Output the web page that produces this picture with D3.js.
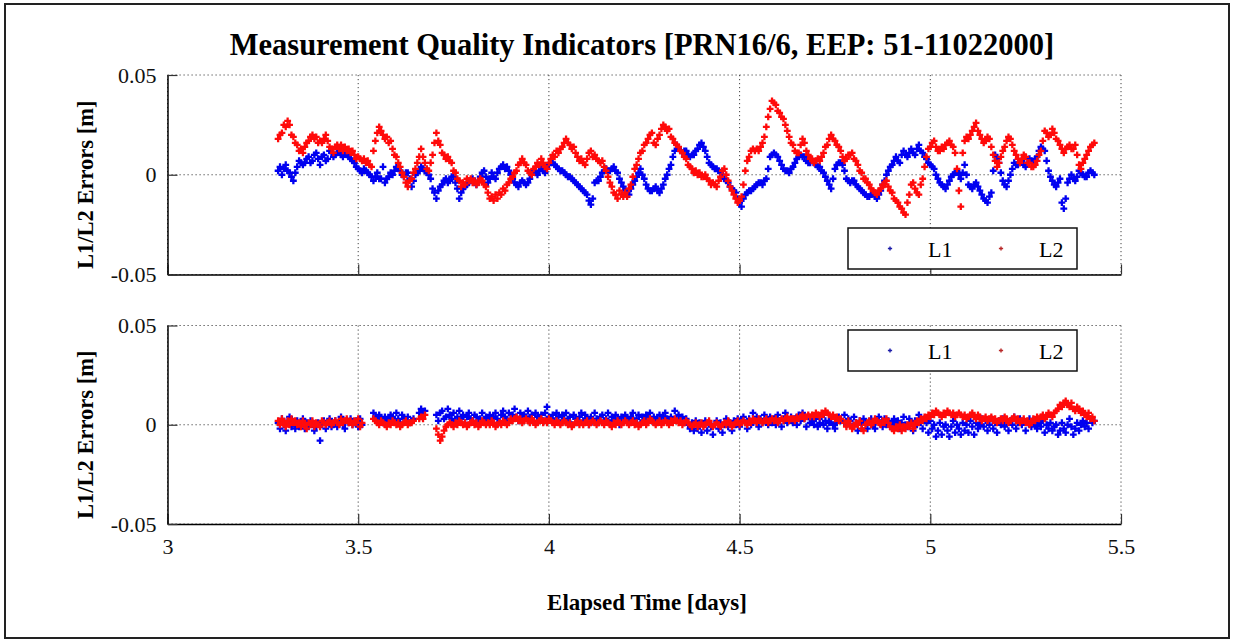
<!DOCTYPE html>
<meta charset="utf-8">
<style>
  body {
      margin: 0;
      background: #fff;
  }
  svg {
      display: block;
      font-family: "Liberation Serif", "Times New Roman", Times, serif;
  }
  .grid line {
      stroke: #444;
      stroke-width: 1;
      stroke-dasharray: 1.2,2.8;
  }
  .axis path {
      stroke: #000;
      stroke-width: 1.5;
  }
  .axis line {
      stroke: #333;
      stroke-width: 1.2;
  }
</style>
<body>
<script src="https://cdn.jsdelivr.net/npm/d3@7"></script>
<script>
  'use strict';

  // epochs: first sample and spacing, in days
  const t0 = 3.29,
        dt = 0.005;

  const xTicks = [3, 3.5, 4, 4.5, 5, 5.5];
  const yTicks = [-0.05, 0, 0.05];
  const seriesNames = ["L1", "L2"];

  // errors in mm, one value per epoch (null = no data)
  const l1Top = [
    2, 4, 0, 3, 5, 2, 1, -1, -3, 1,
    4, 7, 6, 5, 6, 8, 9, 6, 7, 10,
    11, 8, 5, 9, 10, 7, 8, 12, 11, 9,
    10, 11, 12, 10, 9, 11, 10, 9, 8, 7,
    6, 4, 3, 2, 1, 3, 2, 1, 0, -1,
    -3, -1, 1, -2, -2, 4, -4, -2, -1, 1,
    0, 2, 4, 3, 2, 0, -1, 1, 1, -2,
    -6, -3, 0, 1, 2, 4, 3, 2, 1, 0,
    -2, -7, -9, -12, -8, -6, -5, -3, -2, -4,
    -3, -1, -1, -4, -7, -12, -9, -7, -6, -5,
    -4, -3, -2, -4, -5, -3, -1, 1, 2, -1,
    -4, -2, 1, -1, -2, 1, 3, 4, 5, 3,
    4, 2, 0, -2, -4, -5, -6, -4, -3, -4,
    -5, -4, -2, 0, 2, 1, 0, 2, 3, 2,
    1, 3, 5, 6, 6, 5, 4, 3, 2, 2,
    1, 0, -1, -1, -2, -3, -4, -5, -6, -7,
    -8, -9, -10, -13, -15, -12, -4, -3, -3, -1,
    1, 2, 3, 2, 2, 3, 4, 2, 1, -2,
    -4, -6, -8, -9, -10, -7, -5, -3, -1, 1,
    3, 0, -2, -5, -7, -8, -8, -7, -6, -8,
    -9, -7, -5, -2, 0, 3, 5, 9, 12, 15,
    13, 12, 11, 12, 12, 10, 9, 10, 10, 12,
    13, 15, 16, 14, 12, 9, 6, 5, 4, 3,
    3, 2, 1, 0, -2, -3, -4, -6, -7, -8,
    -9, -12, -14, -16, -12, -10, -9, -8, -8, -7,
    -6, -5, -4, -4, -5, -3, -2, 3, 9, 10,
    11, 10, 9, 7, 5, 3, 2, 2, 1, 3,
    4, 6, 8, 9, 10, 9, 9, 7, 6, 6,
    7, 6, 5, 4, 4, 2, 1, -1, -3, -5,
    -7, -2, 3, 5, 6, 6, 5, 2, -2, -3,
    -4, -3, -3, -5, -6, -7, -8, -9, -10, -11,
    -11, -10, -9, -11, -12, -10, -8, -5, -3, 0,
    2, 4, 5, 7, 9, 7, 6, 10, 12, 10,
    9, 11, 13, 11, 10, 13, 15, 12, 11, 9,
    8, 6, 5, 4, 3, 0, -2, -4, -5, -6,
    -7, -5, -3, -1, 0, 1, 2, 0, -2, 1,
    5, 0, -5, -6, -7, -5, -4, -6, -8, -10,
    -12, -13, -14, -11, -9, 2, 10, 8, 6, 1,
    -3, -5, -6, -3, 0, 3, 6, 5, 5, 6,
    7, 5, 4, 6, 8, 7, 6, 8, 9, 12,
    14, 13, 12, 7, 2, -1, -3, -5, -6, -4,
    -2, -14, -17, -12, -4, -2, 0, -2, -3, -1,
    2, 1, 0, -1, -1, 1, 2, 1, 0
  ];

  const l2Top = [
    18, 20, 21, 25, 24, 27, 25, 20, 19, 16,
    15, 12, 13, 11, 14, 16, 17, 19, 20, 18,
    19, 16, 17, 16, 18, 20, 17, 14, 13, 11,
    14, 15, 13, 15, 12, 14, 12, 13, 11, 12,
    10, 8, 9, 8, 7, 8, 6, 7, 5, 4,
    12, 17, 21, 24, 22, 20, 18, 19, 16, 17,
    13, 10, 9, 6, 4, 1, -1, -4, -6, -3,
    -2, 1, 3, 6, 9, 13, 9, 6, 3, 2,
    6, 10, 16, 21, 17, 15, 11, 10, 8, 9,
    7, 6, 2, 1, -2, -3, -6, -4, -5, -2,
    -3, -2, -4, -3, -5, -4, -2, -3, -5, -6,
    -9, -12, -11, -13, -10, -12, -9, -10, -7, -8,
    -5, -4, -2, -1, 1, 2, 5, 6, 8, 6,
    5, 2, 1, 0, 3, 4, 6, 5, 8, 6,
    4, 3, 6, 8, 10, 9, 12, 11, 13, 14,
    16, 18, 16, 15, 13, 14, 11, 9, 7, 8,
    6, 5, 8, 11, 12, 9, 10, 8, 7, 6,
    7, 4, 2, -1, -4, -6, -9, -10, -12, -8,
    -10, -11, -9, -11, -7, -5, -1, 3, 5, 8,
    11, 12, 15, 16, 18, 20, 21, 16, 15, 18,
    20, 23, 25, 24, 22, 23, 19, 18, 16, 15,
    14, 12, 11, 9, 8, 5, 4, 3, 1, 2,
    0, 1, -1, -1, 0, -2, -3, -5, -4, -5,
    -6, -3, -1, 2, 3, 0, -3, -6, -8, -10,
    -12, -14, -13, -11, -5, 2, 7, 9, 12, 13,
    12, 13, 12, 14, 16, 19, 24, 29, 33, 37,
    36, 35, 32, 31, 29, 28, 25, 22, 19, 16,
    15, 12, 11, 11, 15, 18, 16, 12, 10, 8,
    8, 6, 7, 8, 7, 9, 11, 14, 15, 18,
    20, 18, 17, 15, 14, 12, 9, 7, 8, 10,
    10, 11, 8, 7, 5, 2, 1, -2, -2, -4,
    -5, -7, -8, -9, -10, -8, -7, -5, -5, -3,
    -6, -8, -9, -12, -13, -14, -16, -17, -19, -20,
    -14, -10, -5, -4, -7, -9, -10, -5, -2, 4,
    9, 13, 14, 16, 17, 14, 12, 12, 14, 13,
    15, 16, 17, 15, 14, 11, 3, -8, -16, 11,
    17, 19, 18, 20, 22, 24, 26, 22, 20, 18,
    16, 17, 19, 18, 14, 10, 7, 4, 6, 9,
    12, 14, 17, 19, 18, 15, 12, 10, 8, 6,
    8, 10, 9, 6, 6, 4, 4, 5, 7, 10,
    12, 17, 22, 21, 19, 20, 23, 21, 18, 17,
    15, 13, 11, 13, 14, 15, 13, 13, 15, 10,
    5, 3, 6, 8, 10, 12, 14, 15, 16
  ];

  const l1Bottom = [
    1, -2, 3, 0, -3, 2, 4, -1, 1, -2,
    2, -1, 0, 3, -2, 1, -1, 2, 0, -3,
    -1, 1, -8, 0, 2, -2, 1, 3, -1, 0,
    2, -1, 1, 4, 0, -2, 2, 1, 3, 0,
    1, 2, -1, 3, 0, null, null, null, null, null,
    6, 4, 2, 5, 3, 1, 4, 2, 3, 5,
    4, 2, 6, 3, 1, 5, 3, 2, 4, 1,
    2, 3, null, null, 6, 8, 5, 7, null, null,
    null, null, null, 5, 2, 6, 7, 3, 4, 8,
    5, 3, 6, 2, 4, 7, 3, 5, 1, 4,
    6, 3, 2, 5, 4, 1, 3, 6, 2, 4,
    3, 5, 2, 4, 6, 3, 1, 5, 7, 4,
    2, 6, 3, 5, 8, 4, 2, 6, 3, 5,
    4, 7, 3, 5, 2, 6, 4, 3, 5, 2,
    6, 9, 4, 3, 5, 2, 6, 4, 1, 5,
    3, 6, 2, 4, 0, 5, 3, 1, 4, 6,
    2, 5, 3, 0, 4, 2, 6, 3, 1, 4,
    5, 2, 3, 6, 1, 4, 2, 5, 3, 0,
    4, 2, 5, 3, 1, 4, 6, 2, 3, 5,
    1, 4, 2, 5, 3, 6, 2, 4, 1, 3,
    5, 2, 4, 6, 3, 1, 4, 2, 7, 3,
    5, 2, 4, 1, 3, 0, -2, 1, -3, 2,
    -2, 1, -4, 0, 2, -3, 1, -1, -5, 0,
    2, -2, 1, -4, 0, 3, -1, 1, -3, 2,
    0, 3, -1, 2, 4, 1, -2, 3, 0, 6,
    2, 4, -1, 3, 1, 5, 2, 0, 4, 1,
    3, 0, 5, 2, -1, 3, 6, 1, 2, 4,
    1, 3, 0, 5, 2, 6, 3, -1, 4, 1,
    2, 0, 3, -1, 1, 4, 0, 2, -2, 1,
    3, 0, -2, 1, 4, 2, null, 5, 0, 3,
    2, -1, 4, 1, -3, 2, 0, 3, 1, -2,
    1, 3, 0, -2, 2, 4, 1, -1, 3, 0,
    2, -1, 1, 3, 0, 2, -2, 1, 4, 0,
    -1, 3, 1, -3, 2, 0, 5, 1, -2, 3,
    1, -4, 2, -2, 0, -6, -3, 1, -5, -1,
    0, -3, -6, -1, 2, -4, 0, -2, -5, 1,
    -3, 0, -4, 2, -1, -5, 1, -2, 0, 3,
    -1, 2, -3, 0, 3, -2, 1, -4, 2, 0,
    3, -1, 1, -3, 2, 0, 4, -2, 1, 3,
    0, 2, -3, 1, 3, -1, 2, 0, -2, 1,
    -1, 2, -4, 0, -2, 1, -3, -1, 0, -5,
    -3, 1, -2, -4, 0, 3, -1, -5, -2, 1,
    -3, 0, 2, -1, 1, -2, 3, 1, 2
  ];

  const l2Bottom = [
    2, 0, 3, 1, -1, 2, 0, 3, 1, 2,
    0, 1, -1, 2, 0, -2, 1, 0, 2, -1,
    1, 0, -1, 2, 1, 0, 1, 2, 0, 1,
    2, 1, 0, 3, 1, 2, 3, 1, 2, 0,
    2, 1, 3, -1, 1, null, null, null, null, null,
    3, 2, 1, 0, 2, 1, 0, -1, 1, 0,
    2, 1, 0, 1, -1, 0, 1, 2, 0, 1,
    1, 2, null, null, 3, 4, 3, 5, null, null,
    null, null, null, -2, -5, -8, -6, -3, -1, 0,
    1, 0, -1, 1, 0, 2, 1, 0, 1, -1,
    0, 1, 2, 0, 1, -1, 0, 2, 1, 0,
    1, 0, 2, 1, -1, 0, 1, 0, 2, 1,
    0, 1, 3, 2, 3, 4, 2, 3, 1, 2,
    3, 2, 1, 3, 2, 0, 1, 2, 3, 1,
    2, 1, 3, 2, 1, 0, 2, 1, 0, 1,
    2, 1, 0, 1, -1, 0, 1, 2, 0, 1,
    0, 1, 2, 0, 1, 2, 1, 0, 1, 2,
    1, 0, 2, 1, 0, -1, 1, 0, 2, 1,
    0, 1, 2, 1, 0, 1, 2, 0, 1, -1,
    0, 1, 2, 0, 1, 3, 2, 1, 0, 1,
    2, 0, 1, 2, 1, 0, 2, 1, 3, 2,
    1, 2, 0, 1, 2, 1, 0, -1, 0, 1,
    -1, 0, 1, -1, 0, 1, 2, 0, -1, 0,
    1, 0, -1, 0, 1, 0, 2, 1, -1, 0,
    1, 2, 0, 1, 2, 1, 0, 2, 1, 3,
    2, 1, 3, 2, 1, 2, 3, 1, 2, 3,
    2, 3, 1, 2, 3, 2, 3, 4, 2, 3,
    3, 2, 4, 3, 4, 5, 3, 4, 5, 4,
    5, 4, 6, 5, 4, 6, 5, 7, 6, 5,
    4, 5, 3, 4, 2, 3, null, 1, -1, 2,
    0, -2, -1, 1, 0, 2, -2, -3, 0, 1,
    2, 0, 1, 3, 2, 1, 0, 2, 1, 3,
    1, -1, -2, -3, -1, -2, 0, -3, -1, -2,
    0, -1, 1, -2, 0, 2, 1, 3, 2, 4,
    3, 5, 4, 6, 5, 7, 6, 5, 4, 6,
    5, 7, 6, 5, 6, 4, 5, 6, 5, 4,
    5, 3, 4, 5, 6, 4, 3, 5, 4, 2,
    3, 4, 2, 3, 4, 2, 3, 1, 2, 3,
    2, 4, 3, 1, 2, 3, 4, 2, 3, 1,
    2, 3, 1, 2, 0, 1, 3, 2, 4, 3,
    4, 5, 3, 4, 6, 5, 4, 6, 7, 8,
    10, 9, 11, 12, 10, 9, 11, 8, 7, 9,
    8, 6, 7, 5, 4, 6, 3, 4, 2
  ];

  const serif = '"Liberation Serif", "Times New Roman", Times, serif';

  const width = 1238,
        height = 643,
        plotLeft = 167.5,
        plotRight = 1121,
        panels = [
          {top: 75, bottom: 274.5, l1: l1Top, l2: l2Top, legendY: 228, xLabels: false},
          {top: 325.5, bottom: 524, l1: l1Bottom, l2: l2Bottom, legendY: 330, xLabels: true}
        ],
        color = d3.scaleOrdinal().domain(seriesNames).range(["#0000f0", "#ff0a0a"]),
        legendColor = d3.scaleOrdinal().domain(seriesNames).range(["#1c1ca8", "#b82828"]);

  const svg = d3.select("body").append("svg")
        .attr("width", width)
        .attr("height", height);

  svg.append("rect")
      .attr("x", 5).attr("y", 4)
      .attr("width", 1224).attr("height", 634)
      .attr("fill", "#fff")
      .attr("stroke", "#222")
      .attr("stroke-width", 2);

  svg.append("text")
      .attr("x", 642).attr("y", 55)
      .attr("text-anchor", "middle")
      .style("font-size", "30.5px")
      .style("font-weight", "bold")
      .text("Measurement Quality Indicators [PRN16/6, EEP: 51-11022000]");

  const x = d3.scaleLinear().domain([3, 5.5]).range([plotLeft, plotRight]);
  const marker = d3.symbol().type(d3.symbolCross).size(26);
  const yFmt = (d) => d === 0 ? "0" : d3.format(".2f")(d).replace("\u2212", "-");

  panels.forEach((p) => {
    const y = d3.scaleLinear().domain([-0.05, 0.05]).range([p.bottom, p.top]);
    const g = svg.append("g");

    // dotted grid, including the top and right edges
    const grid = g.append("g").attr("class", "grid");
    grid.selectAll(".gx")
        .data(xTicks)
        .enter().append("line")
        .attr("x1", (d) => x(d)).attr("x2", (d) => x(d))
        .attr("y1", p.top).attr("y2", p.bottom);
    grid.selectAll(".gy")
        .data(yTicks)
        .enter().append("line")
        .attr("x1", plotLeft).attr("x2", plotRight)
        .attr("y1", (d) => y(d)).attr("y2", (d) => y(d));

    // points: L1 first, L2 on top
    seriesNames.forEach((name) => {
      const vals = name === "L1" ? p.l1 : p.l2;
      const pts = vals.map((v, i) => ({t: t0 + i * dt, v: v}))
            .filter((d) => d.v !== null);
      g.append("g").selectAll("path")
          .data(pts)
          .enter().append("path")
          .attr("d", marker)
          .attr("transform", (d) => `translate(${x(d.t)},${y(d.v / 1000)})`)
          .attr("fill", color(name));
    });

    g.append("g")
        .attr("class", "axis")
        .attr("transform", `translate(0,${p.bottom})`)
        .call(d3.axisBottom(x).tickValues(xTicks)
              .tickSizeInner(-10).tickSizeOuter(0).tickPadding(14)
              .tickFormat(p.xLabels ? d3.format("") : () => ""));

    g.append("g")
        .attr("class", "axis")
        .attr("transform", `translate(${plotLeft},0)`)
        .call(d3.axisLeft(y).tickValues(yTicks)
              .tickSizeInner(-10).tickSizeOuter(0).tickPadding(11)
              .tickFormat(yFmt));

    g.selectAll(".axis")
        .attr("font-family", serif)
        .attr("font-size", 22);
    g.selectAll(".axis .domain").attr("fill", "none");
    g.selectAll(".axis text")
        .attr("fill", "#111")
        .style("font-family", serif)
        .style("font-size", "22px");

    // y label
    svg.append("text")
        .attr("transform", `translate(93,${(p.top + p.bottom) / 2 + 10}) rotate(-90)`)
        .attr("text-anchor", "middle")
        .style("font-size", "22.5px")
        .style("font-weight", "bold")
        .text("L1/L2 Errors [m]");

    // legend
    const lg = g.append("g").attr("transform", `translate(848,${p.legendY})`);
    lg.append("rect")
        .attr("width", 229).attr("height", 41)
        .attr("fill", "#fff")
        .attr("stroke", "#111")
        .attr("stroke-width", 1.5);
    seriesNames.forEach((name, i) => {
      lg.append("path")
          .attr("d", d3.symbol().type(d3.symbolCross).size(10))
          .attr("transform", `translate(${42 + i * 111},20.5)`)
          .attr("fill", legendColor(name));
      lg.append("text")
          .attr("x", 80 + i * 111).attr("y", 29)
          .style("font-size", "22px")
          .text(name);
    });
  });

  svg.append("text")
      .attr("x", 647).attr("y", 610)
      .attr("text-anchor", "middle")
      .style("font-size", "23px")
      .style("font-weight", "bold")
      .text("Elapsed Time [days]");
</script>
